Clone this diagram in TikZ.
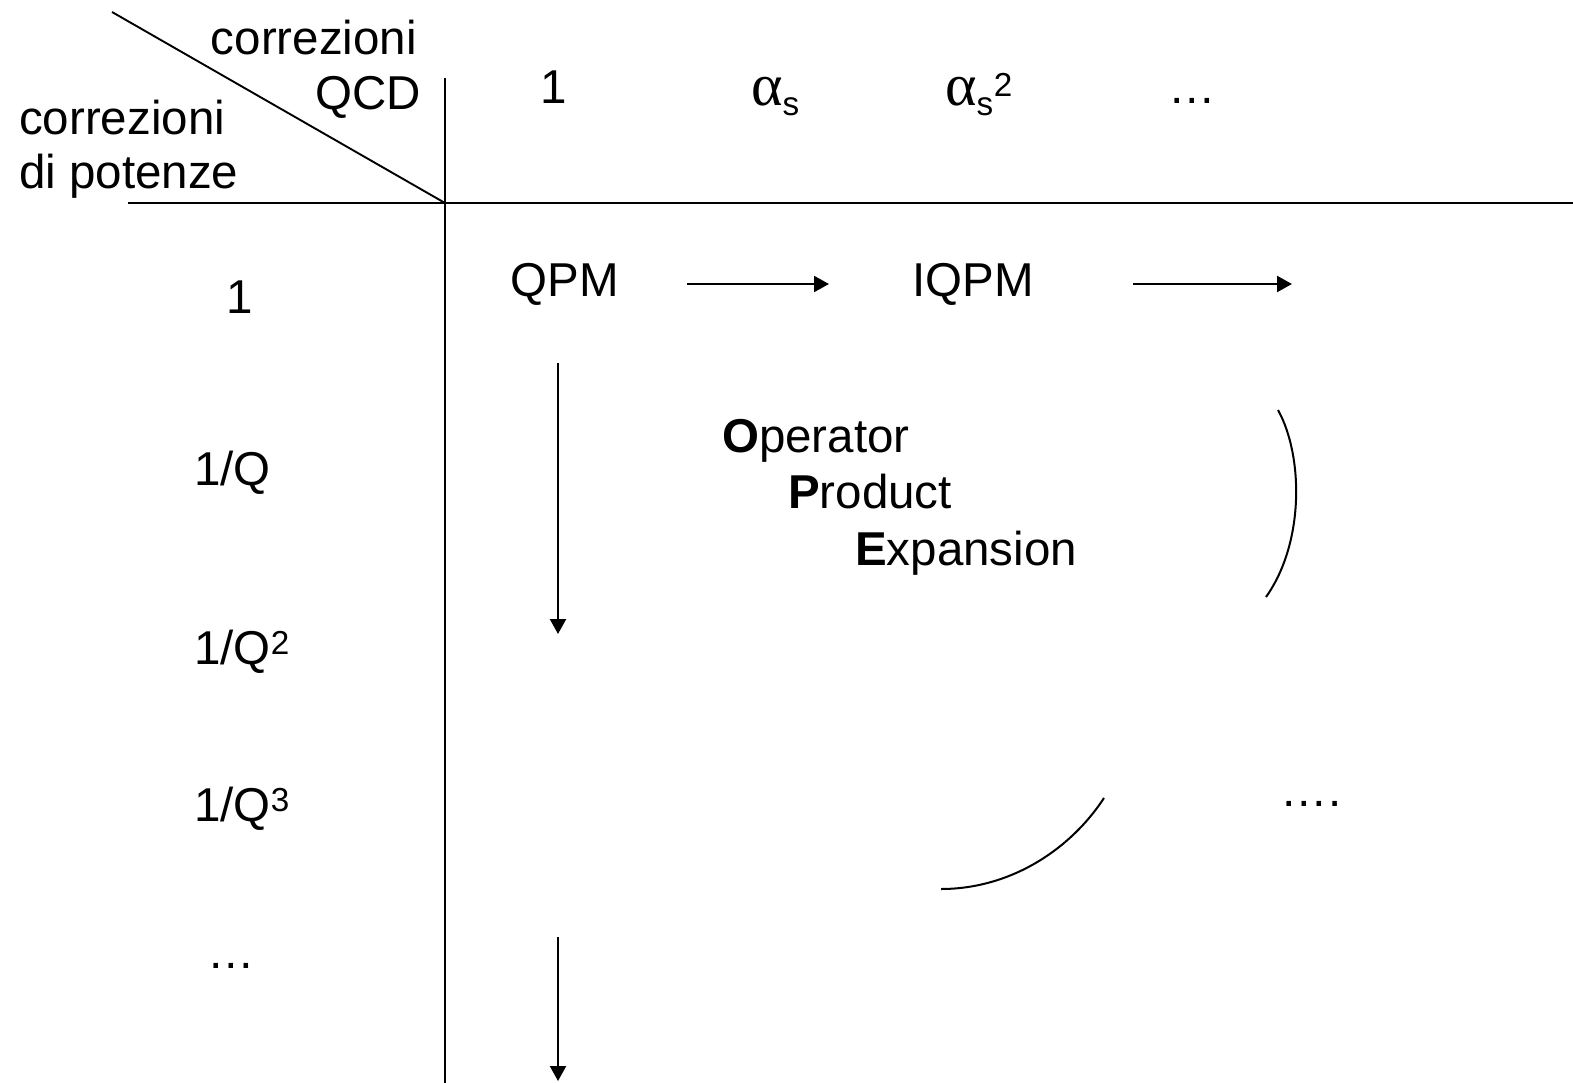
\documentclass[tikz,border=0pt]{standalone}
\usepackage{fontspec}
\setmainfont{Liberation Sans}
\newfontfamily\greekfont{Liberation Serif}
\usetikzlibrary{arrows.meta}
\newcommand{\alphas}{{\greekfont\fontsize{60}{60}\selectfont α}}
\begin{document}
\begin{tikzpicture}[x=1pt,y=-1pt,
  lbl/.style={inner sep=0pt,font=\fontsize{47.5}{56}\selectfont},
  rule/.style={line width=1.9pt},
  flow/.style={line width=2.2pt,-{Triangle[length=15pt,width=16pt]}},
  arcline/.style={line width=2pt}]
\fill[white] (0,0) rectangle (1573,1083);
\useasboundingbox (0,0) rectangle (1573,1083);

% table rules
\coordinate (diagA) at (112,12);
\coordinate (corner) at (445,203);
\coordinate (hL) at (128,203);
\coordinate (hR) at (1573,203);
\coordinate (vT) at (445,78);
\coordinate (vB) at (445,1083);
\draw[rule] (diagA) -- (corner);
\draw[rule] (hL) -- (hR);
\draw[rule] (vT) -- (vB);

% corner headings
\node[lbl,anchor=base east] (hq1) at (417,55) {correzioni};
\node[lbl,anchor=base east] (hq2) at (421,110) {QCD};
\node[lbl,anchor=base west] (hp1) at (19,135) {correzioni};
\node[lbl,anchor=base west] (hp2) at (19,189) {di potenze};

% column headings
\node[lbl,anchor=base] (c1) at (554,104) {1};
\node[lbl,anchor=base west] (c2) at (751,106) {\alphas\textsubscript{s}};
\node[lbl,anchor=base west] (c3) at (945,106) {\alphas\textsubscript{s}\textsuperscript{2}};
\node[lbl,anchor=base] (c4) at (1192,104) {\ldots};

% row headings
\node[lbl,anchor=base] (r1) at (240,313) {1};
\node[lbl,anchor=base west] (r2) at (194,485) {1/Q};
\node[lbl,anchor=base west] (r3) at (194,664) {1/Q\textsuperscript{2}};
\node[lbl,anchor=base west] (r4) at (194,821) {1/Q\textsuperscript{3}};
\node[lbl,anchor=base] (r5) at (231,968) {\ldots};

% table entries
\node[lbl,anchor=base] (qpm) at (565,296) {QPM};
\node[lbl,anchor=base] (iqpm) at (973,296) {IQPM};
\node[lbl,anchor=base west] (ope1) at (722,452) {\textbf{O}perator};
\node[lbl,anchor=base west] (ope2) at (788,508) {\textbf{P}roduct};
\node[lbl,anchor=base west] (ope3) at (855,565) {\textbf{E}xpansion};
\node[lbl,anchor=base] (more) at (1311,806) {\ldots.};

% arrows
\coordinate (a1s) at (687,284);
\coordinate (a1e) at (829,284);
\coordinate (a2s) at (1133,284);
\coordinate (a2e) at (1292,284);
\coordinate (d1s) at (558,363);
\coordinate (d1e) at (558,634);
\coordinate (d2s) at (558,937);
\coordinate (d2e) at (558,1081);
\draw[flow] (a1s) -- (a1e);
\draw[flow] (a2s) -- (a2e);
\draw[flow] (d1s) -- (d1e);
\draw[flow] (d2s) -- (d2e);

% bracketing arcs
\coordinate (bt) at (1278,410);
\coordinate (bb) at (1266,597);
\draw[arcline] (bt) .. controls (1303,455) and (1305,542) .. (bb);
\coordinate (cl) at (941,889);
\coordinate (cr) at (1104,798);
\draw[arcline] (cl) .. controls (1010,889) and (1070,850) .. (cr);
\end{tikzpicture}
\end{document}
